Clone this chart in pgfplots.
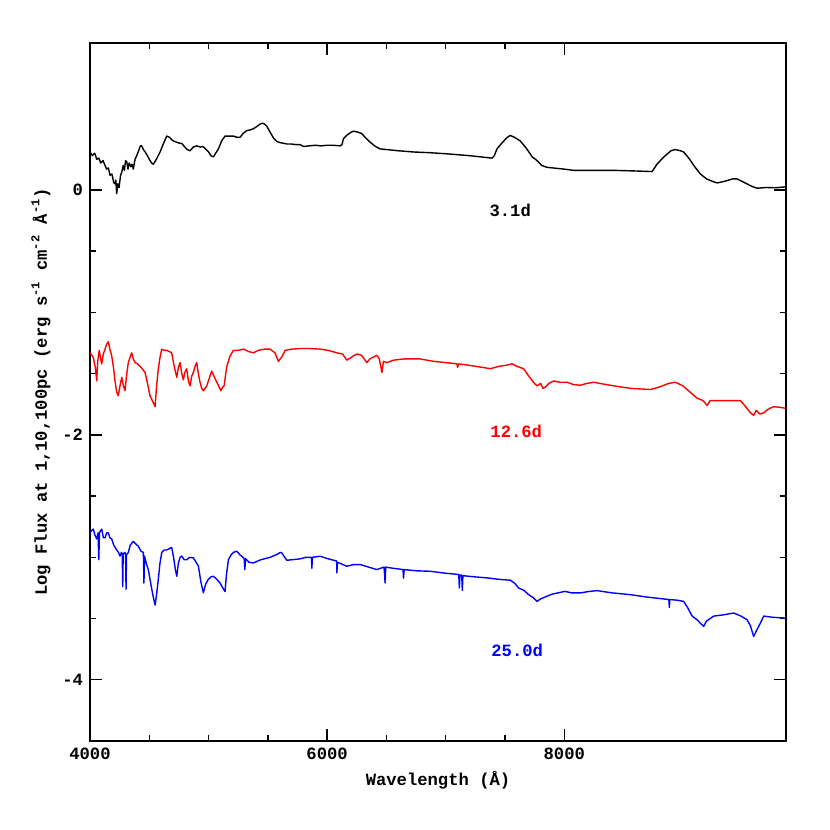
\documentclass[border=0pt]{standalone}
\usepackage{pgfplots}
\pgfplotsset{compat=1.18}
\usepackage{fontspec}
\setmainfont{Liberation Mono}

% spectra: log flux vs wavelength (Angstrom)
\begin{document}
\begin{tikzpicture}
\useasboundingbox (-45pt,-44.5pt) rectangle (370pt,370.5pt);
\begin{axis}[
    scale only axis,
    width=348pt, height=349pt,
    xmin=4000, xmax=9870,
    ymin=-4.5, ymax=1.2,
    xtick={4000,6000,8000},
    ytick={-4,-2,0},
    minor x tick num=3,
    minor y tick num=3,
    tick align=inside,
    major tick length=6pt,
    minor tick length=3pt,
    every tick/.style={black, line width=0.7pt},
    axis line style={line width=0.7pt},
    xticklabel style={/pgf/number format/set thousands separator={}},
    /pgf/number format/assume math mode=true,
    font=\fontsize{8.6}{10.5}\selectfont\bfseries,
    xlabel={Wavelength (Å)},
    ylabel={Log Flux at 1,10,100pc (erg s\textsuperscript{-1} cm\textsuperscript{-2} Å\textsuperscript{-1})},
    xlabel style={yshift=1pt},
    ylabel style={yshift=-1pt},
    every axis plot/.style={line width=0.7pt, line join=round},
]
\addplot[black] coordinates {
(4000,0.31)(4020,0.28)(4040,0.30)(4057,0.25)(4075,0.26)(4090,0.22)(4110,0.24)(4127,0.20)(4140,0.17)(4155,0.18)
(4169,0.12)(4185,0.13)(4200,0.06)(4211,0.05)(4218,0.08)(4225,-0.03)(4235,0.05)(4245,0.02)(4258,0.12)(4268,0.145)
(4280,0.20)(4290,0.16)(4300,0.24)(4310,0.23)(4320,0.17)(4330,0.22)(4345,0.19)(4355,0.21)(4365,0.17)(4380,0.25)
(4394,0.28)(4410,0.32)(4425,0.36)(4436,0.36)(4450,0.33)(4465,0.31)(4478,0.29)(4500,0.25)(4520,0.22)(4534,0.21)
(4560,0.25)(4591,0.31)(4620,0.38)(4647,0.44)(4670,0.43)(4690,0.41)(4703,0.40)(4730,0.39)(4760,0.38)(4774,0.38)
(4800,0.35)(4820,0.33)(4844,0.32)(4870,0.35)(4900,0.36)(4930,0.35)(4950,0.355)(4970,0.34)(5000,0.31)(5020,0.28)
(5041,0.27)(5060,0.30)(5083,0.335)(5110,0.40)(5139,0.44)(5170,0.44)(5209,0.44)(5240,0.43)(5266,0.43)(5290,0.46)
(5322,0.485)(5350,0.49)(5378,0.50)(5410,0.52)(5430,0.535)(5449,0.545)(5470,0.54)(5491,0.52)(5520,0.47)(5550,0.42)
(5576,0.395)(5610,0.385)(5640,0.38)(5660,0.375)(5700,0.375)(5740,0.37)(5772,0.37)(5800,0.355)(5850,0.36)(5900,0.365)
(5950,0.36)(6000,0.365)(6050,0.365)(6110,0.36)(6125,0.37)(6138,0.42)(6170,0.45)(6200,0.47)(6222,0.48)(6250,0.475)
(6293,0.46)(6320,0.43)(6363,0.39)(6400,0.36)(6447,0.335)(6500,0.33)(6600,0.32)(6728,0.31)(6850,0.305)(7010,0.295)
(7200,0.28)(7390,0.26)(7410,0.28)(7432,0.335)(7480,0.39)(7520,0.43)(7544,0.445)(7580,0.43)(7629,0.40)(7680,0.34)
(7730,0.27)(7770,0.24)(7810,0.20)(7854,0.185)(7900,0.18)(7950,0.175)(8000,0.17)(8079,0.16)(8200,0.16)(8300,0.16)
(8416,0.16)(8600,0.155)(8740,0.15)(8782,0.21)(8840,0.27)(8900,0.32)(8937,0.33)(8980,0.32)(9007,0.31)(9050,0.26)
(9100,0.19)(9148,0.13)(9200,0.09)(9250,0.07)(9289,0.057)(9350,0.07)(9420,0.09)(9457,0.09)(9520,0.06)(9580,0.03)
(9626,0.014)(9700,0.02)(9780,0.018)(9865,0.025)
};
\addplot[red] coordinates {
(4000,-1.33)(4015,-1.35)(4028,-1.37)(4045,-1.45)(4057,-1.56)(4065,-1.40)(4078,-1.31)(4090,-1.38)(4099,-1.42)(4112,-1.34)
(4127,-1.30)(4140,-1.26)(4154,-1.24)(4168,-1.30)(4183,-1.355)(4198,-1.45)(4211,-1.56)(4225,-1.65)(4238,-1.68)(4253,-1.60)
(4268,-1.53)(4282,-1.60)(4295,-1.64)(4310,-1.50)(4323,-1.41)(4340,-1.36)(4352,-1.33)(4365,-1.38)(4380,-1.41)(4400,-1.42)
(4422,-1.44)(4440,-1.46)(4464,-1.49)(4485,-1.58)(4506,-1.68)(4525,-1.72)(4549,-1.77)(4560,-1.62)(4576,-1.46)(4590,-1.37)
(4605,-1.30)(4625,-1.31)(4647,-1.31)(4670,-1.32)(4689,-1.33)(4710,-1.44)(4732,-1.53)(4745,-1.45)(4760,-1.41)(4774,-1.50)
(4787,-1.55)(4800,-1.49)(4816,-1.46)(4830,-1.56)(4844,-1.60)(4858,-1.52)(4872,-1.49)(4886,-1.44)(4900,-1.41)(4914,-1.50)
(4928,-1.57)(4942,-1.62)(4956,-1.64)(4970,-1.62)(4985,-1.60)(5005,-1.54)(5027,-1.48)(5050,-1.53)(5069,-1.57)(5085,-1.60)
(5103,-1.64)(5118,-1.61)(5131,-1.60)(5145,-1.50)(5154,-1.44)(5180,-1.36)(5209,-1.31)(5250,-1.31)(5294,-1.30)(5340,-1.32)
(5378,-1.33)(5420,-1.31)(5470,-1.30)(5519,-1.30)(5560,-1.33)(5589,-1.40)(5620,-1.36)(5646,-1.31)(5700,-1.30)(5772,-1.295)
(5857,-1.295)(5940,-1.30)(6010,-1.31)(6082,-1.33)(6130,-1.34)(6166,-1.39)(6200,-1.37)(6230,-1.35)(6251,-1.34)(6290,-1.35)
(6335,-1.41)(6360,-1.38)(6400,-1.36)(6419,-1.35)(6440,-1.38)(6462,-1.49)(6475,-1.40)(6504,-1.41)(6560,-1.39)(6650,-1.38)
(6785,-1.38)(6900,-1.40)(7000,-1.41)(7095,-1.42)(7100,-1.45)(7110,-1.42)(7250,-1.44)(7348,-1.455)(7376,-1.46)(7450,-1.44)
(7520,-1.43)(7559,-1.42)(7600,-1.44)(7657,-1.46)(7700,-1.52)(7740,-1.57)(7770,-1.60)(7800,-1.58)(7820,-1.62)(7840,-1.61)
(7870,-1.58)(7910,-1.56)(7960,-1.57)(8023,-1.57)(8080,-1.59)(8135,-1.595)(8190,-1.58)(8247,-1.57)(8300,-1.58)(8416,-1.60)
(8560,-1.62)(8726,-1.63)(8800,-1.61)(8880,-1.58)(8937,-1.57)(9000,-1.60)(9060,-1.65)(9120,-1.70)(9170,-1.72)(9205,-1.76)
(9230,-1.72)(9260,-1.72)(9350,-1.72)(9429,-1.72)(9485,-1.72)(9530,-1.77)(9570,-1.82)(9597,-1.84)(9620,-1.80)(9650,-1.83)
(9682,-1.82)(9720,-1.79)(9766,-1.77)(9820,-1.775)(9865,-1.783)
};
\addplot[blue] coordinates {
(4000,-2.80)(4014,-2.78)(4028,-2.77)(4042,-2.82)(4057,-2.85)(4068,-2.80)(4074,-3.02)(4080,-2.80)(4090,-2.78)(4099,-2.77)
(4113,-2.84)(4127,-2.84)(4141,-2.80)(4154,-2.80)(4168,-2.84)(4183,-2.85)(4200,-2.90)(4225,-2.94)(4240,-2.96)(4253,-2.99)
(4265,-2.96)(4272,-2.98)(4276,-3.24)(4280,-2.97)(4295,-2.96)(4300,-2.98)(4304,-3.26)(4308,-2.98)(4323,-2.96)(4340,-2.90)
(4365,-2.87)(4385,-2.89)(4408,-2.91)(4430,-2.95)(4450,-2.96)(4455,-3.21)(4460,-2.99)(4475,-3.05)(4492,-3.10)(4506,-3.18)
(4521,-3.26)(4535,-3.33)(4549,-3.39)(4562,-3.30)(4576,-3.18)(4590,-3.05)(4605,-2.96)(4625,-2.94)(4647,-2.94)(4668,-2.93)
(4689,-2.92)(4705,-3.00)(4720,-3.10)(4732,-3.155)(4745,-3.05)(4760,-3.00)(4774,-2.99)(4795,-3.02)(4816,-3.02)(4840,-3.00)
(4872,-3.005)(4895,-3.04)(4914,-3.07)(4935,-3.20)(4956,-3.29)(4975,-3.22)(4998,-3.18)(5020,-3.16)(5041,-3.155)(5070,-3.18)
(5097,-3.21)(5120,-3.25)(5139,-3.28)(5150,-3.15)(5167,-3.02)(5190,-2.98)(5209,-2.96)(5238,-2.95)(5265,-2.98)(5290,-3.00)
(5300,-3.01)(5306,-3.10)(5312,-3.01)(5340,-3.04)(5378,-3.046)(5440,-3.02)(5519,-3.00)(5580,-2.975)(5605,-2.96)(5618,-2.964)
(5635,-2.99)(5660,-3.024)(5700,-3.02)(5772,-3.013)(5820,-3.00)(5868,-3.00)(5871,-3.09)(5876,-3.00)(5941,-2.991)(6000,-3.01)
(6040,-3.02)(6080,-3.03)(6082,-3.127)(6087,-3.04)(6166,-3.073)(6220,-3.06)(6278,-3.059)(6350,-3.08)(6419,-3.10)(6480,-3.08)
(6489,-3.21)(6494,-3.08)(6560,-3.09)(6640,-3.10)(6644,-3.17)(6650,-3.10)(6750,-3.11)(6869,-3.114)(7000,-3.13)(7110,-3.14)
(7115,-3.25)(7120,-3.145)(7135,-3.145)(7140,-3.27)(7145,-3.15)(7250,-3.16)(7348,-3.168)(7450,-3.18)(7544,-3.187)(7580,-3.21)
(7614,-3.25)(7660,-3.27)(7699,-3.305)(7740,-3.33)(7770,-3.36)(7800,-3.34)(7854,-3.318)(7900,-3.30)(7950,-3.29)(8004,-3.278)
(8060,-3.29)(8135,-3.291)(8200,-3.28)(8276,-3.272)(8400,-3.29)(8557,-3.305)(8700,-3.325)(8838,-3.34)(8882,-3.345)(8886,-3.41)
(8890,-3.345)(8950,-3.35)(9007,-3.36)(9040,-3.41)(9078,-3.48)(9120,-3.51)(9150,-3.54)(9176,-3.564)(9200,-3.52)(9260,-3.48)
(9340,-3.47)(9429,-3.455)(9490,-3.48)(9542,-3.51)(9570,-3.56)(9597,-3.646)(9620,-3.60)(9654,-3.537)(9682,-3.48)(9760,-3.49)
(9865,-3.496)
};
\node[black] at (axis cs:7544,-0.17) {3.1d};
\node[red] at (axis cs:7595,-1.97) {12.6d};
\node[blue] at (axis cs:7603,-3.76) {25.0d};
\end{axis}
\end{tikzpicture}
\end{document}
